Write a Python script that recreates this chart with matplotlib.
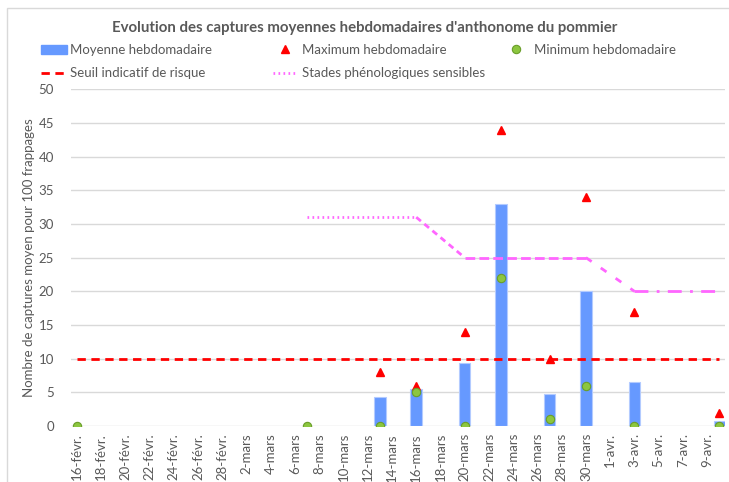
import matplotlib.pyplot as plt
from matplotlib.lines import Line2D
from matplotlib.patches import Patch, Rectangle
import pandas as pd

plt.rcParams['font.family'] = ['Lato', 'DejaVu Sans']

# weekly trap counts (captures per 100 beatings)
obs_dates = ["2021-02-16", "2021-03-07", "2021-03-13", "2021-03-16", "2021-03-20",
             "2021-03-23", "2021-03-27", "2021-03-30", "2021-04-03", "2021-04-10"]
moyenne = [0, 0, 4.3, 5.5, 9.3, 33, 4.7, 20, 6.6, 0.7]
maximum = [0, 0, 8, 6, 14, 44, 10, 34, 17, 2]
minimum = [0, 0, 0, 5, 0, 22, 1, 6, 0, 0]

# risk threshold
seuil_dates = ["2021-02-16", "2021-04-10"]
seuil = [10, 10]

# sensitive phenological stages
stade_dates = ["2021-03-07", "2021-03-16", "2021-03-20", "2021-03-30", "2021-04-03", "2021-04-10"]
stade = [31, 31, 25, 25, 20, 20]

tick_start, tick_end = "2021-02-16", "2021-04-09"
mois = {2: "févr.", 3: "mars", 4: "avr."}

obs = pd.to_datetime(obs_dates)
seuil_x = pd.to_datetime(seuil_dates)
stade_x = pd.to_datetime(stade_dates)
ticks = pd.date_range(tick_start, tick_end, freq="2D")
tick_labels = [f"{d.day}-{mois[d.month]}" for d in ticks]

grey = "#595959"
bar_col = "#6699ff"
pink = "#ff66ff"
fs = 9.5

fig = plt.figure(figsize=(7.29, 4.82), dpi=100)
ax = fig.add_axes([0.097, 0.116, 0.898, 0.699])

ax.bar(obs, moyenne, width=0.95, color=bar_col, edgecolor="#b3cbff", linewidth=0.8, zorder=2)
ax.plot(seuil_x, seuil, color="#ff0000", lw=2, dashes=(3, 2), zorder=3)

# each stage segment drawn with its own dash pattern
seg_styles = [(0.6, 1.2), (2.2, 1.6), (3.5, 1.5), (2.5, 4), (5, 3, 1, 3)]
for i, ds in enumerate(seg_styles):
    ax.plot(stade_x[i:i + 2], stade[i:i + 2], color=pink, lw=2, dashes=ds, zorder=3)

tri_kw = dict(ls="none", marker="^", ms=6, color="#ff0000")
dot_kw = dict(ls="none", marker="o", ms=6, mfc="#8cc63f", mec="#6a9e2a", mew=0.8)
ax.plot(obs, maximum, zorder=4, **tri_kw)
ax.plot(obs, minimum, zorder=5, **dot_kw)

ax.set_ylim(0, 50)
ax.set_yticks(range(0, 51, 5))
ax.set_xlim(pd.Timestamp("2021-02-16") - pd.Timedelta(hours=12),
            pd.Timestamp("2021-04-10") + pd.Timedelta(hours=12))
ax.set_xticks(ticks)
ax.set_xticklabels(tick_labels, rotation=90)
ax.tick_params(axis="both", length=0, colors=grey, labelsize=fs)
ax.tick_params(axis="y", pad=12)
ax.tick_params(axis="x", pad=5)
ax.grid(axis="y", color="#d9d9d9", lw=1, zorder=0)
ax.set_axisbelow(True)
for s in ax.spines.values():
    s.set_visible(False)

ax.set_ylabel("Nombre de captures moyen pour 100 frappages", color=grey, fontsize=fs)
ax.yaxis.set_label_coords(-0.055, 0.5)

fig.text(0.5, 0.942, "Evolution des captures moyennes hebdomadaires d'anthonome du pommier",
         ha="center", va="center", fontsize=10.8, fontweight="bold", color=grey)

# legend laid out as three fixed columns
columns = [
    (41, 2.0, 0.2, [Patch(color=bar_col), Line2D([], [], color="#ff0000", lw=2, dashes=(3, 2))],
     ["Moyenne hebdomadaire", "Seuil indicatif de risque"]),
    (273, 1.8, 0.38, [Line2D([], [], **tri_kw), Line2D([], [], color=pink, lw=2, dashes=(0.6, 1.2))],
     ["Maximum hebdomadaire", "Stades phénologiques sensibles"]),
    (504, 1.8, 0.45, [Line2D([], [], **dot_kw)], ["Minimum hebdomadaire"]),
]
for x_px, hl, tp, hs, ls in columns:
    leg = fig.legend(hs, ls, loc="upper left", bbox_to_anchor=(x_px / 729, 1 - 44 / 482),
                     frameon=False, fontsize=fs, handlelength=hl, handletextpad=tp,
                     labelspacing=0.85, borderpad=0, borderaxespad=0)
    for t in leg.get_texts():
        t.set_color(grey)

# chart area border
fig.patches.append(Rectangle((0.009, -0.01), 1.0, 0.994, transform=fig.transFigure,
                             fill=False, edgecolor="#d9d9d9", lw=1))

fig.savefig("out.png", dpi=100)
